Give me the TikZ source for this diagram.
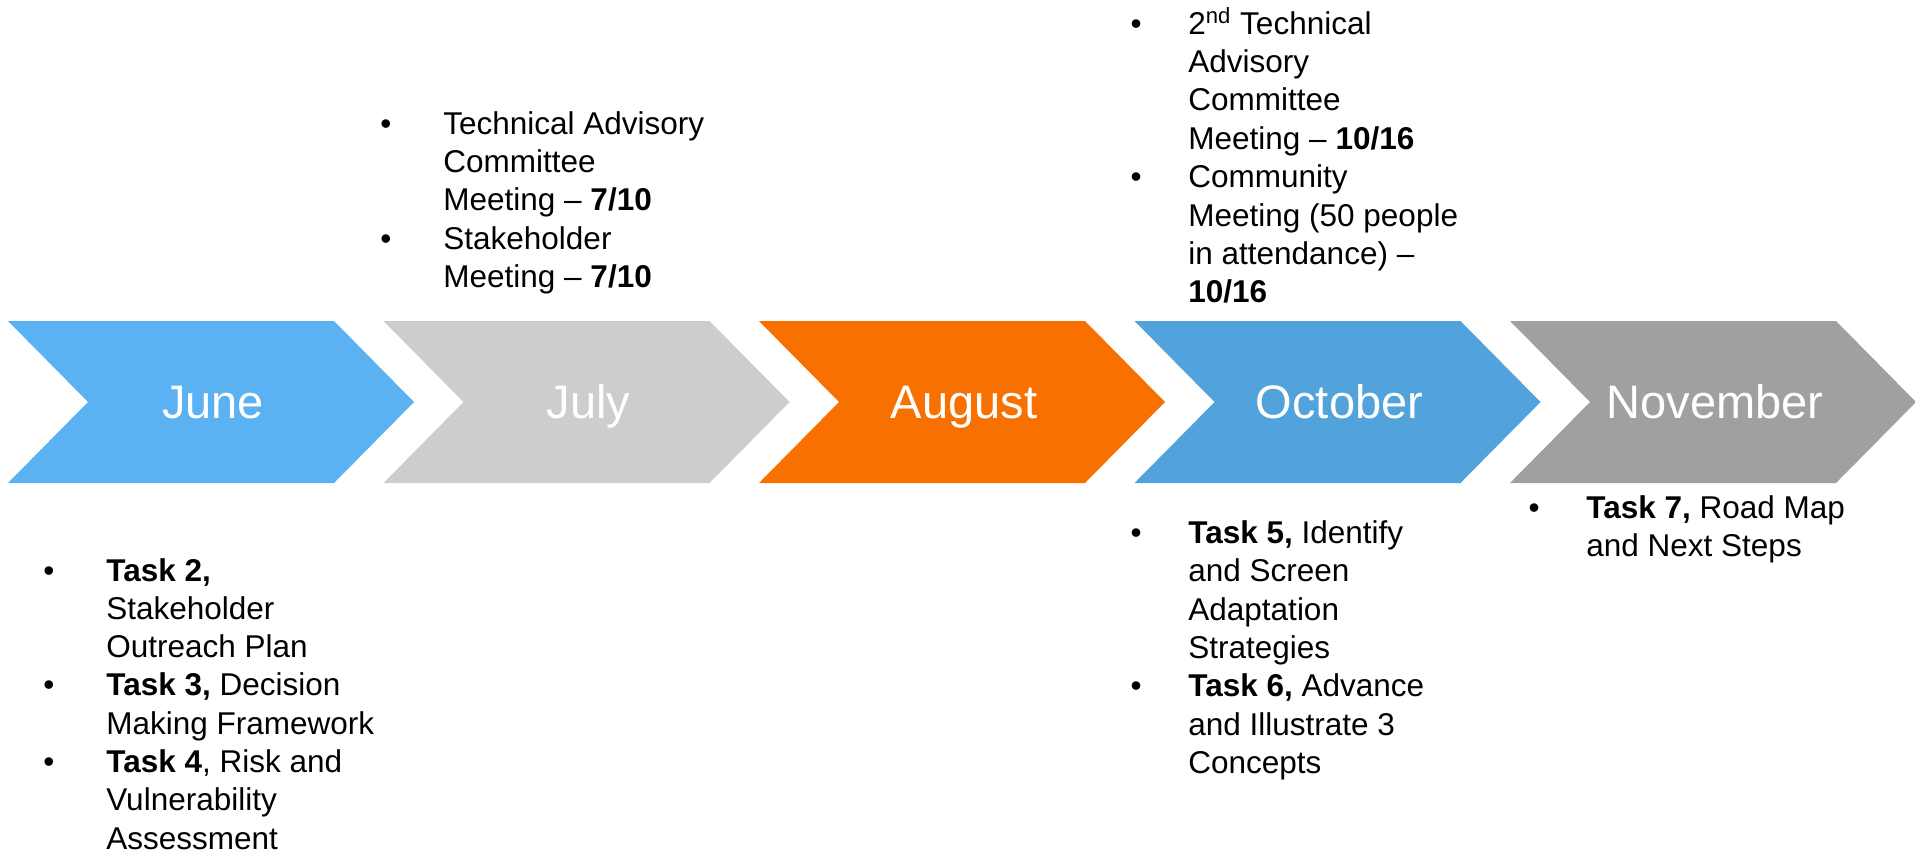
\documentclass[tikz,border=0pt]{standalone}
\usepackage{fontspec}
\setmainfont{Liberation Sans}

\definecolor{junblue}{HTML}{5BB2F2}
\definecolor{julgrey}{HTML}{CDCDCD}
\definecolor{augorange}{HTML}{F87100}
\definecolor{octblue}{HTML}{52A2DB}
\definecolor{novgrey}{HTML}{A0A0A0}

\tikzset{
  month/.style={anchor=base, inner sep=0, text=white, font=\fontsize{23.5}{28}\selectfont},
  txtline/.style={anchor=base west, inner sep=0, font=\fontsize{15.75}{19}\selectfont},
  bullet/.style={anchor=base, inner sep=0, font=\fontsize{15.75}{19}\selectfont}
}

\begin{document}
\begin{tikzpicture}[x=0.5pt,y=-0.5pt]
	\useasboundingbox (0,0) rectangle (1915,853);

	% Pfeile mit Monatsnamen
	\foreach \m/\col/\lbl [count=\i from 0] in {jun/junblue/June, jul/julgrey/July, aug/augorange/August, oct/octblue/October, nov/novgrey/November}{
		\pgfmathsetmacro\xs{8+375.5*\i}
		\fill[\col] (\xs,321) -- ++(326,0) -- ++(80,81) -- ++(-80,81) -- ++(-326,0) -- ++(80,-81) -- cycle;
		\node[month] (\m) at (\xs+205,418) {\lbl};
	}

	% Juli, oben
	\foreach \t [count=\n from 0] in {Technical Advisory, Committee, {Meeting -- \textbf{7/10}}, Stakeholder, {Meeting -- \textbf{7/10}}}
		\node[txtline] (jul-\n) at (443,134+38.4*\n) {\t};
	\node[bullet] (jul-b1) at (386,134) {•};
	\node[bullet] (jul-b2) at (386,134+38.4*3) {•};

	% Oktober, oben
	\foreach \t [count=\n from 0] in {{2\textsuperscript{nd} Technical}, Advisory, Committee, {Meeting -- \textbf{10/16}}, Community, {Meeting (50 people}, {in attendance) --}, \textbf{10/16}}
		\node[txtline] (octtop-\n) at (1188,34+38.4*\n) {\t};
	\node[bullet] (octtop-b1) at (1136,34) {•};
	\node[bullet] (octtop-b2) at (1136,34+38.4*4) {•};

	% Juni, unten
	\foreach \t [count=\n from 0] in {\textbf{Task 2,}, Stakeholder, Outreach Plan, {\textbf{Task 3,} Decision}, Making Framework, {\textbf{Task 4}, Risk and}, Vulnerability, Assessment}
		\node[txtline] (jun-\n) at (106,581+38.3*\n) {\t};
	\node[bullet] (jun-b1) at (49,581) {•};
	\node[bullet] (jun-b2) at (49,581+38.3*3) {•};
	\node[bullet] (jun-b3) at (49,581+38.3*5) {•};

	% Oktober, unten
	\foreach \t [count=\n from 0] in {{\textbf{Task 5,} Identify}, and Screen, Adaptation, Strategies, {\textbf{Task 6,} Advance}, and Illustrate 3, Concepts}
		\node[txtline] (octbot-\n) at (1188,543.5+38.3*\n) {\t};
	\node[bullet] (octbot-b1) at (1136,543.5) {•};
	\node[bullet] (octbot-b2) at (1136,543.5+38.3*4) {•};

	% November, unten
	\foreach \t [count=\n from 0] in {{\textbf{Task 7,} Road Map}, and Next Steps}
		\node[txtline] (nov-\n) at (1586,518+38.3*\n) {\t};
	\node[bullet] (nov-b1) at (1534,518) {•};
\end{tikzpicture}
\end{document}
